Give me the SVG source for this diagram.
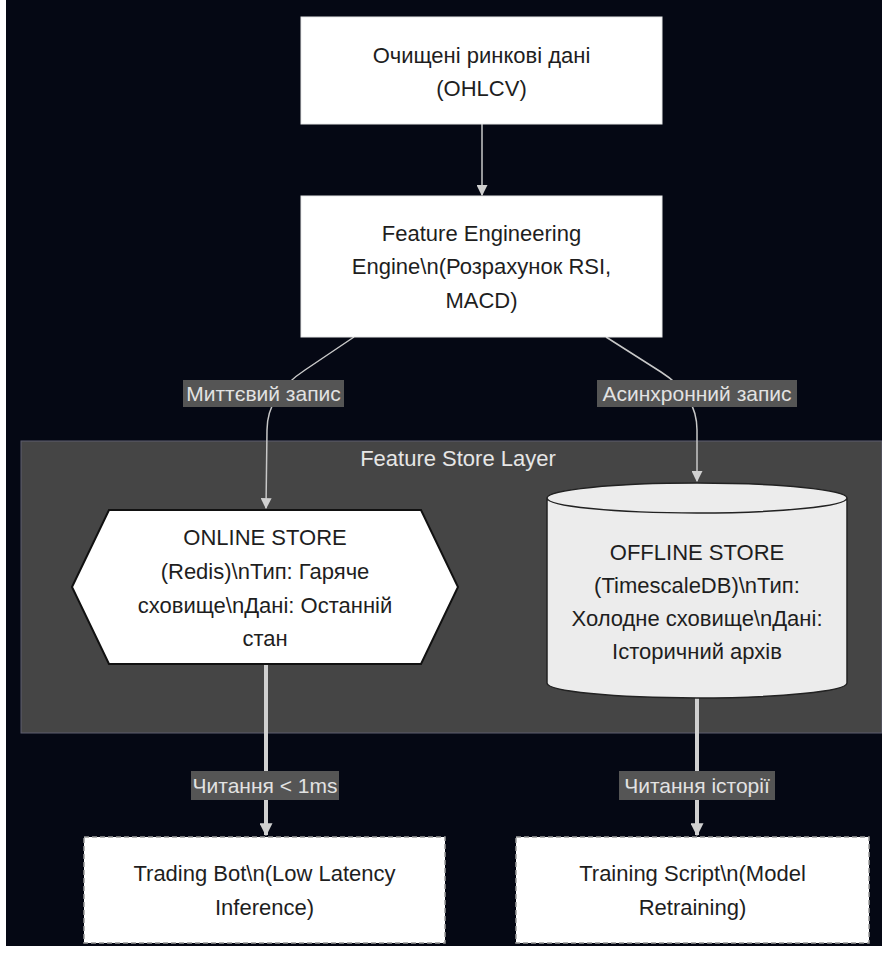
<svg xmlns="http://www.w3.org/2000/svg" width="882" height="954" viewBox="0 0 882 954">
  <defs>
    <style>
      text { font-family: "Liberation Sans", Arial, sans-serif; font-size: 22px; text-anchor: middle; }
      .node-text { fill: #1e1e1e; }
      .label-text { fill: #e2e2e2; font-size: 21px; }
      .cluster-text { fill: #e6e6e6; }
      .box { fill: #ffffff; stroke: #e8e8e8; stroke-width: 1; }
      .dashed { fill: #ffffff; stroke: #9a9a9a; stroke-width: 1.5; stroke-dasharray: 5 3; }
      .edge { fill: none; stroke: #c8c8c8; stroke-width: 1.5; }
      .edge-thick { fill: none; stroke: #d0d0d0; stroke-width: 4; }
      .edge-label { fill: #555555; }
    </style>
    <marker id="arrow" viewBox="0 0 10 10" refX="9" refY="5" markerWidth="11" markerHeight="11" markerUnits="userSpaceOnUse" orient="auto">
      <path d="M0,0 L10,5 L0,10 z" fill="#d0d0d0"/>
    </marker>
    <marker id="arrow-thick" viewBox="0 0 10 10" refX="9" refY="5" markerWidth="13" markerHeight="13" markerUnits="userSpaceOnUse" orient="auto">
      <path d="M0,0 L10,5 L0,10 z" fill="#d0d0d0"/>
    </marker>
  </defs>

  <!-- canvas -->
  <rect x="0" y="0" width="882" height="954" fill="#ffffff"/>
  <rect x="6" y="0" width="876" height="946" fill="#050814"/>

  <!-- subgraph: Feature Store Layer -->
  <g id="cluster-feature-store">
    <rect x="21" y="441" width="861" height="292" fill="#454545" stroke="#5e5e70" stroke-width="1"/>
    <text class="cluster-text" x="458" y="466">Feature Store Layer</text>
  </g>

  <!-- connectors -->
  <g id="connectors">
    <path class="edge" d="M482,124 L482,195" marker-end="url(#arrow)"/>
    <path class="edge" d="M354,337 L305,370 Q267,395 267,430 L266,508" marker-end="url(#arrow)"/>
    <path class="edge" d="M606,337 L661,372 Q697,395 697,430 L697,481" marker-end="url(#arrow)"/>
    <path class="edge-thick" d="M266,664 L266,835" marker-end="url(#arrow-thick)"/>
    <path class="edge-thick" d="M697,698 L697,835" marker-end="url(#arrow-thick)"/>

    <g id="label-instant-write">
      <rect class="edge-label" x="183" y="380" width="161" height="27"/>
      <text class="label-text" x="263.5" y="401">Миттєвий запис</text>
    </g>
    <g id="label-async-write">
      <rect class="edge-label" x="597" y="380" width="200" height="27"/>
      <text class="label-text" x="697" y="401">Асинхронний запис</text>
    </g>
    <g id="label-read-fast">
      <rect class="edge-label" x="191" y="771" width="148" height="29"/>
      <text class="label-text" x="265" y="793">Читання &lt; 1ms</text>
    </g>
    <g id="label-read-history">
      <rect class="edge-label" x="619" y="771" width="156" height="29"/>
      <text class="label-text" x="697" y="793">Читання історії</text>
    </g>
  </g>

  <!-- nodes -->
  <g id="node-market-data">
    <rect class="box" x="301" y="17" width="361" height="107"/>
    <text class="node-text" x="481.5" y="63">Очищені ринкові дані</text>
    <text class="node-text" x="481.5" y="96">(OHLCV)</text>
  </g>

  <g id="node-feature-engine">
    <rect class="box" x="301" y="196" width="361" height="141"/>
    <text class="node-text" x="481.5" y="241">Feature Engineering</text>
    <text class="node-text" x="481.5" y="274">Engine\n(Розрахунок RSI,</text>
    <text class="node-text" x="481.5" y="308">MACD)</text>
  </g>

  <g id="node-online-store">
    <polygon points="72,587 109,510 421,510 458,587 421,664 109,664" fill="#ffffff" stroke="#111111" stroke-width="2"/>
    <text class="node-text" x="265" y="545">ONLINE STORE</text>
    <text class="node-text" x="265" y="579">(Redis)\nТип: Гаряче</text>
    <text class="node-text" x="265" y="613">сховище\nДані: Останній</text>
    <text class="node-text" x="265" y="646">стан</text>
  </g>

  <g id="node-offline-store">
    <path d="M547,498 a150,15 0 0,0 300,0 a150,15 0 0,0 -300,0 l0,185 a150,15 0 0,0 300,0 l0,-185" fill="#ececec" stroke="#222222" stroke-width="1.5"/>
    <text class="node-text" x="697" y="560">OFFLINE STORE</text>
    <text class="node-text" x="697" y="593">(TimescaleDB)\nТип:</text>
    <text class="node-text" x="697" y="626">Холодне сховище\nДані:</text>
    <text class="node-text" x="697" y="659">Історичний архів</text>
  </g>

  <g id="node-trading-bot">
    <rect class="dashed" x="84" y="837" width="361" height="106"/>
    <text class="node-text" x="264.5" y="881">Trading Bot\n(Low Latency</text>
    <text class="node-text" x="264.5" y="915">Inference)</text>
  </g>

  <g id="node-training-script">
    <rect class="dashed" x="516" y="837" width="353" height="106"/>
    <text class="node-text" x="692.5" y="881">Training Script\n(Model</text>
    <text class="node-text" x="692.5" y="915">Retraining)</text>
  </g>
</svg>
